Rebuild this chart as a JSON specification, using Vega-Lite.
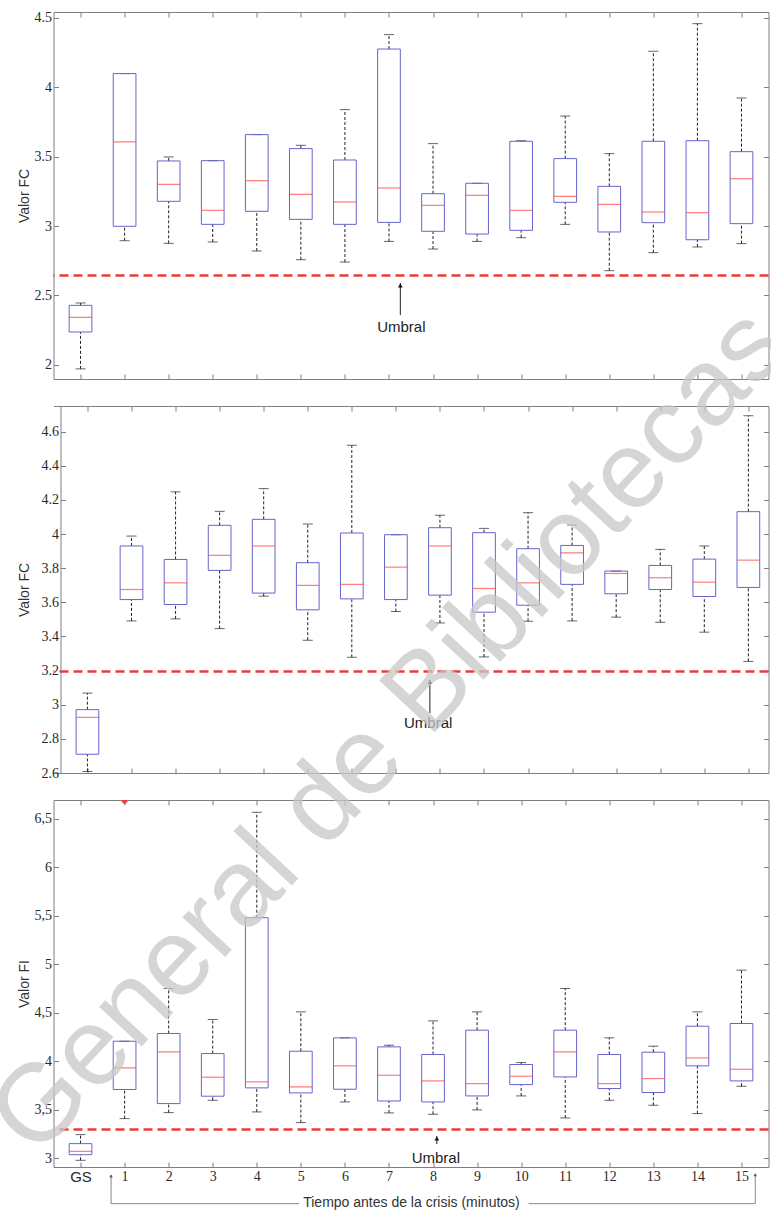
{
  "$schema": "https://vega.github.io/schema/vega-lite/v6.json",
  "background": "white",
  "padding": {"left": -28.5, "top": 10, "right": 0, "bottom": 0},
  "bounds": "flush",
  "spacing": 27,
  "config": {
    "view": {"stroke": "#7f7f7f", "strokeWidth": 1},
    "axis": {"grid": false, "domain": false, "tickColor": "#7f7f7f", "tickSize": -5,
      "labelFont": "Liberation Serif", "labelFontSize": 14, "labelColor": "#2a2a2a",
      "titleFont": "Liberation Sans", "titleFontSize": 14, "titleFontWeight": "normal", "titleColor": "#333"}
  },
  "datasets": {
    "fc1": [
      {"t": 0, "lo": 1.97, "q1": 2.236, "med": 2.341, "q3": 2.428, "hi": 2.445},
      {"t": 1, "lo": 2.894, "q1": 2.998, "med": 3.606, "q3": 4.099, "hi": 4.099},
      {"t": 2, "lo": 2.875, "q1": 3.178, "med": 3.30, "q3": 3.469, "hi": 3.498},
      {"t": 3, "lo": 2.885, "q1": 3.012, "med": 3.113, "q3": 3.471, "hi": 3.471},
      {"t": 4, "lo": 2.82, "q1": 3.106, "med": 3.327, "q3": 3.659, "hi": 3.659},
      {"t": 5, "lo": 2.757, "q1": 3.048, "med": 3.228, "q3": 3.558, "hi": 3.582},
      {"t": 6, "lo": 2.74, "q1": 3.012, "med": 3.173, "q3": 3.476, "hi": 3.839},
      {"t": 7, "lo": 2.889, "q1": 3.026, "med": 3.274, "q3": 4.276, "hi": 4.38},
      {"t": 8, "lo": 2.834, "q1": 2.962, "med": 3.149, "q3": 3.233, "hi": 3.594},
      {"t": 9, "lo": 2.889, "q1": 2.942, "med": 3.221, "q3": 3.308, "hi": 3.308},
      {"t": 10, "lo": 2.916, "q1": 2.969, "med": 3.113, "q3": 3.611, "hi": 3.615},
      {"t": 11, "lo": 3.012, "q1": 3.171, "med": 3.214, "q3": 3.486, "hi": 3.793},
      {"t": 12, "lo": 2.678, "q1": 2.957, "med": 3.156, "q3": 3.286, "hi": 3.522},
      {"t": 13, "lo": 2.808, "q1": 3.024, "med": 3.101, "q3": 3.611, "hi": 4.26},
      {"t": 14, "lo": 2.849, "q1": 2.901, "med": 3.096, "q3": 3.615, "hi": 4.459},
      {"t": 15, "lo": 2.873, "q1": 3.017, "med": 3.341, "q3": 3.536, "hi": 3.923}
    ],
    "fc2": [
      {"t": 0, "lo": 2.609, "q1": 2.71, "med": 2.926, "q3": 2.971, "hi": 3.068},
      {"t": 1, "lo": 3.491, "q1": 3.616, "med": 3.675, "q3": 3.93, "hi": 3.988},
      {"t": 2, "lo": 3.503, "q1": 3.587, "med": 3.714, "q3": 3.851, "hi": 4.247},
      {"t": 3, "lo": 3.446, "q1": 3.787, "med": 3.875, "q3": 4.051, "hi": 4.133},
      {"t": 4, "lo": 3.636, "q1": 3.654, "med": 3.93, "q3": 4.086, "hi": 4.266},
      {"t": 5, "lo": 3.378, "q1": 3.556, "med": 3.699, "q3": 3.832, "hi": 4.059},
      {"t": 6, "lo": 3.278, "q1": 3.62, "med": 3.705, "q3": 4.006, "hi": 4.52},
      {"t": 7, "lo": 3.546, "q1": 3.616, "med": 3.806, "q3": 3.996, "hi": 3.996},
      {"t": 8, "lo": 3.479, "q1": 3.642, "med": 3.93, "q3": 4.037, "hi": 4.11},
      {"t": 9, "lo": 3.28, "q1": 3.542, "med": 3.681, "q3": 4.008, "hi": 4.033},
      {"t": 10, "lo": 3.489, "q1": 3.583, "med": 3.714, "q3": 3.914, "hi": 4.125},
      {"t": 11, "lo": 3.491, "q1": 3.705, "med": 3.89, "q3": 3.933, "hi": 4.053},
      {"t": 12, "lo": 3.513, "q1": 3.65, "med": 3.769, "q3": 3.783, "hi": 3.783},
      {"t": 13, "lo": 3.483, "q1": 3.675, "med": 3.744, "q3": 3.816, "hi": 3.91},
      {"t": 14, "lo": 3.425, "q1": 3.634, "med": 3.718, "q3": 3.853, "hi": 3.93},
      {"t": 15, "lo": 3.254, "q1": 3.687, "med": 3.847, "q3": 4.131, "hi": 4.693}
    ],
    "fi": [
      {"t": 0, "lo": 2.978, "q1": 3.036, "med": 3.071, "q3": 3.15, "hi": 3.243},
      {"t": 1, "lo": 3.408, "q1": 3.708, "med": 3.931, "q3": 4.206, "hi": 4.206},
      {"t": 2, "lo": 3.47, "q1": 3.563, "med": 4.096, "q3": 4.286, "hi": 4.75},
      {"t": 3, "lo": 3.597, "q1": 3.639, "med": 3.835, "q3": 4.079, "hi": 4.43},
      {"t": 4, "lo": 3.477, "q1": 3.725, "med": 3.787, "q3": 5.48, "hi": 6.567},
      {"t": 5, "lo": 3.367, "q1": 3.673, "med": 3.735, "q3": 4.103, "hi": 4.509},
      {"t": 6, "lo": 3.58, "q1": 3.711, "med": 3.952, "q3": 4.241, "hi": 4.241},
      {"t": 7, "lo": 3.467, "q1": 3.59, "med": 3.855, "q3": 4.148, "hi": 4.165},
      {"t": 8, "lo": 3.453, "q1": 3.58, "med": 3.797, "q3": 4.069, "hi": 4.416},
      {"t": 9, "lo": 3.498, "q1": 3.642, "med": 3.769, "q3": 4.32, "hi": 4.509},
      {"t": 10, "lo": 3.642, "q1": 3.759, "med": 3.845, "q3": 3.966, "hi": 3.986},
      {"t": 11, "lo": 3.415, "q1": 3.838, "med": 4.096, "q3": 4.32, "hi": 4.75},
      {"t": 12, "lo": 3.597, "q1": 3.718, "med": 3.769, "q3": 4.069, "hi": 4.241},
      {"t": 13, "lo": 3.546, "q1": 3.677, "med": 3.821, "q3": 4.093, "hi": 4.155},
      {"t": 14, "lo": 3.46, "q1": 3.952, "med": 4.034, "q3": 4.361, "hi": 4.509},
      {"t": 15, "lo": 3.742, "q1": 3.797, "med": 3.917, "q3": 4.389, "hi": 4.939}
    ],
    "fiOut": [{"t": 1, "v": 6.68}]
  },
  "vconcat": [
    {
      "width": 715, "height": 367,
      "data": {"name": "fc1"},
      "layer": [
        {"mark": {"type": "rule", "strokeDash": [3, 2], "color": "#222", "strokeWidth": 1},
         "encoding": {
           "x": {"field": "t", "type": "quantitative", "scale": {"domain": [-0.5, 15.5], "nice": false, "zero": false},
                 "axis": {"orient": "bottom", "values": [0,1,2,3,4,5,6,7,8,9,10,11,12,13,14,15], "labels": false, "title": null}},
           "y": {"field": "q3", "type": "quantitative", "scale": {"domain": [1.897, 4.543], "nice": false, "zero": false},
                 "axis": {"orient": "left", "values": [2, 2.5, 3, 3.5, 4, 4.5], "format": "~g", "title": "Valor FC", "labelPadding": 7, "titlePadding": 3}},
           "y2": {"field": "hi"}}},
        {"mark": {"type": "rule", "strokeDash": [3, 2], "color": "#222", "strokeWidth": 1},
         "encoding": {
           "x": {"field": "t", "type": "quantitative", "axis": {"orient": "top", "values": [0,1,2,3,4,5,6,7,8,9,10,11,12,13,14,15], "labels": false, "title": null}},
           "y": {"field": "lo", "type": "quantitative", "axis": {"orient": "right", "values": [2, 2.5, 3, 3.5, 4, 4.5], "labels": false, "title": null}},
           "y2": {"field": "q1"}}},
        {"mark": {"type": "tick", "orient": "horizontal", "size": 10, "thickness": 1, "color": "#222"},
         "encoding": {"x": {"field": "t", "type": "quantitative", "axis": null}, "y": {"field": "hi", "type": "quantitative", "axis": null}}},
        {"mark": {"type": "tick", "orient": "horizontal", "size": 10, "thickness": 1, "color": "#222"},
         "encoding": {"x": {"field": "t", "type": "quantitative", "axis": null}, "y": {"field": "lo", "type": "quantitative", "axis": null}}},
        {"mark": {"type": "bar", "orient": "vertical", "width": 22.7, "filled": false, "color": "#6565cc", "strokeWidth": 1},
         "encoding": {"x": {"field": "t", "type": "quantitative", "axis": null}, "y": {"field": "q1", "type": "quantitative", "axis": null}, "y2": {"field": "q3"}}},
        {"mark": {"type": "tick", "orient": "horizontal", "size": 22.7, "thickness": 1.2, "color": "#ff4545"},
         "encoding": {"x": {"field": "t", "type": "quantitative", "axis": null}, "y": {"field": "med", "type": "quantitative", "axis": null}}},
        {"data": {"values": [{}]}, "mark": {"type": "rule", "color": "#e83c3c", "strokeWidth": 2.5, "strokeDash": [9, 5]},
         "encoding": {"y": {"datum": 2.644, "axis": null}}},
        {"data": {"values": [{}]}, "mark": {"type": "rule", "color": "#222", "strokeWidth": 1},
         "encoding": {"x": {"datum": 7.258, "axis": null}, "y": {"datum": 2.589, "axis": null}, "y2": {"datum": 2.358}}},
        {"data": {"values": [{}]}, "mark": {"type": "point", "shape": "triangle-up", "filled": true, "size": 22, "color": "#111", "opacity": 1},
         "encoding": {"x": {"datum": 7.258, "axis": null}, "y": {"datum": 2.571, "axis": null}}},
        {"data": {"values": [{}]}, "mark": {"type": "text", "text": "Umbral", "font": "Liberation Sans", "fontSize": 15, "color": "#222"},
         "encoding": {"x": {"datum": 7.28, "axis": null}, "y": {"datum": 2.272, "axis": null}}}
      ]
    },
    {
      "width": 715, "height": 367,
      "view": {"stroke": null},
      "data": {"name": "fc2"},
      "layer": [
        {"mark": {"type": "rule", "strokeDash": [3, 2], "color": "#222", "strokeWidth": 1},
         "encoding": {
           "x": {"field": "t", "type": "quantitative", "scale": {"domain": [-0.6566, 15.3434], "nice": false, "zero": false},
                 "axis": {"orient": "bottom", "values": [0,1,2,3,4,5,6,7,8,9,10,11,12,13,14,15], "labels": false, "title": null, "domain": true, "domainColor": "#7f7f7f"}},
           "y": {"field": "q3", "type": "quantitative", "scale": {"domain": [2.6, 4.75], "nice": false, "zero": false},
                 "axis": {"orient": "left", "offset": -7, "domain": true, "domainColor": "#7f7f7f", "values": [2.6, 2.8, 3, 3.2, 3.4, 3.6, 3.8, 4, 4.2, 4.4, 4.6], "format": "~g", "title": "Valor FC", "labelPadding": 7, "titlePadding": 10}},
           "y2": {"field": "hi"}}},
        {"mark": {"type": "rule", "strokeDash": [3, 2], "color": "#222", "strokeWidth": 1},
         "encoding": {
           "x": {"field": "t", "type": "quantitative", "axis": {"orient": "top", "values": [0,1,2,3,4,5,6,7,8,9,10,11,12,13,14,15], "labels": false, "title": null, "domain": true, "domainColor": "#7f7f7f"}},
           "y": {"field": "lo", "type": "quantitative", "axis": {"orient": "right", "domain": true, "domainColor": "#7f7f7f", "values": [2.6, 2.8, 3, 3.2, 3.4, 3.6, 3.8, 4, 4.2, 4.4, 4.6], "labels": false, "title": null}},
           "y2": {"field": "q1"}}},
        {"mark": {"type": "tick", "orient": "horizontal", "size": 10, "thickness": 1, "color": "#222"},
         "encoding": {"x": {"field": "t", "type": "quantitative", "axis": null}, "y": {"field": "hi", "type": "quantitative", "axis": null}}},
        {"mark": {"type": "tick", "orient": "horizontal", "size": 10, "thickness": 1, "color": "#222"},
         "encoding": {"x": {"field": "t", "type": "quantitative", "axis": null}, "y": {"field": "lo", "type": "quantitative", "axis": null}}},
        {"mark": {"type": "bar", "orient": "vertical", "width": 22.7, "filled": false, "color": "#6565cc", "strokeWidth": 1},
         "encoding": {"x": {"field": "t", "type": "quantitative", "axis": null}, "y": {"field": "q1", "type": "quantitative", "axis": null}, "y2": {"field": "q3"}}},
        {"mark": {"type": "tick", "orient": "horizontal", "size": 22.7, "thickness": 1.2, "color": "#ff4545"},
         "encoding": {"x": {"field": "t", "type": "quantitative", "axis": null}, "y": {"field": "med", "type": "quantitative", "axis": null}}},
        {"data": {"values": [{}]}, "mark": {"type": "rule", "color": "#e83c3c", "strokeWidth": 2.5, "strokeDash": [9, 5]},
         "encoding": {"y": {"datum": 3.194, "axis": null}}},
        {"data": {"values": [{}]}, "mark": {"type": "rule", "color": "#222", "strokeWidth": 1},
         "encoding": {"x": {"datum": 7.772, "axis": null}, "y": {"datum": 3.146, "axis": null}, "y2": {"datum": 2.951}}},
        {"data": {"values": [{}]}, "mark": {"type": "point", "shape": "triangle-up", "filled": true, "size": 22, "color": "#111", "opacity": 1},
         "encoding": {"x": {"datum": 7.772, "axis": null}, "y": {"datum": 3.133, "axis": null}}},
        {"data": {"values": [{}]}, "mark": {"type": "text", "text": "Umbral", "font": "Liberation Sans", "fontSize": 15, "color": "#222"},
         "encoding": {"x": {"datum": 7.734, "axis": null}, "y": {"datum": 2.895, "axis": null}}}
      ]
    },
    {
      "width": 715, "height": 367,
      "data": {"name": "fi"},
      "layer": [
        {"mark": {"type": "rule", "strokeDash": [3, 2], "color": "#222", "strokeWidth": 1},
         "encoding": {
           "x": {"field": "t", "type": "quantitative", "scale": {"domain": [-0.5, 15.5], "nice": false, "zero": false},
                 "axis": {"orient": "bottom", "values": [0,1,2,3,4,5,6,7,8,9,10,11,12,13,14,15],
                   "labelExpr": "datum.value == 0 ? 'GS' : datum.label",
                   "labelFont": {"condition": {"test": "datum.value == 0", "value": "Liberation Sans"}, "value": "Liberation Serif"},
                   "labelFontSize": {"condition": {"test": "datum.value == 0", "value": 15}, "value": 14},
                   "labelPadding": 7,
                   "title": "Tiempo antes de la crisis (minutos)", "titleFontSize": 14, "titlePadding": 11}},
           "y": {"field": "q3", "type": "quantitative", "scale": {"domain": [2.909, 6.694], "nice": false, "zero": false},
                 "axis": {"orient": "left", "values": [3, 3.5, 4, 4.5, 5, 5.5, 6, 6.5], "format": "~g", "labelExpr": "replace(datum.label, '.', ',')", "title": "Valor FI", "labelPadding": 7, "titlePadding": 3}},
           "y2": {"field": "hi"}}},
        {"mark": {"type": "rule", "strokeDash": [3, 2], "color": "#222", "strokeWidth": 1},
         "encoding": {
           "x": {"field": "t", "type": "quantitative", "axis": {"orient": "top", "values": [0,1,2,3,4,5,6,7,8,9,10,11,12,13,14,15], "labels": false, "title": null}},
           "y": {"field": "lo", "type": "quantitative", "axis": {"orient": "right", "values": [3, 3.5, 4, 4.5, 5, 5.5, 6, 6.5], "labels": false, "title": null}},
           "y2": {"field": "q1"}}},
        {"mark": {"type": "tick", "orient": "horizontal", "size": 10, "thickness": 1, "color": "#222"},
         "encoding": {"x": {"field": "t", "type": "quantitative", "axis": null}, "y": {"field": "hi", "type": "quantitative", "axis": null}}},
        {"mark": {"type": "tick", "orient": "horizontal", "size": 10, "thickness": 1, "color": "#222"},
         "encoding": {"x": {"field": "t", "type": "quantitative", "axis": null}, "y": {"field": "lo", "type": "quantitative", "axis": null}}},
        {"mark": {"type": "bar", "orient": "vertical", "width": 22.7, "filled": false, "color": "#6565cc", "strokeWidth": 1},
         "encoding": {"x": {"field": "t", "type": "quantitative", "axis": null}, "y": {"field": "q1", "type": "quantitative", "axis": null}, "y2": {"field": "q3"}}},
        {"mark": {"type": "tick", "orient": "horizontal", "size": 22.7, "thickness": 1.2, "color": "#ff4545"},
         "encoding": {"x": {"field": "t", "type": "quantitative", "axis": null}, "y": {"field": "med", "type": "quantitative", "axis": null}}},
        {"data": {"name": "fiOut"}, "mark": {"type": "point", "shape": "cross", "filled": true, "size": 30, "color": "#ff3030", "opacity": 1, "clip": true},
         "encoding": {"x": {"field": "t", "type": "quantitative", "axis": null}, "y": {"field": "v", "type": "quantitative", "axis": null}}},
        {"data": {"values": [{}]}, "mark": {"type": "rule", "color": "#e83c3c", "strokeWidth": 2.5, "strokeDash": [9, 5]},
         "encoding": {"y": {"datum": 3.295, "axis": null}}},
        {"data": {"values": [{}]}, "mark": {"type": "rule", "color": "#222", "strokeWidth": 1},
         "encoding": {"x": {"datum": 8.086, "axis": null}, "y": {"datum": 3.229, "axis": null}, "y2": {"datum": 3.146}}},
        {"data": {"values": [{}]}, "mark": {"type": "point", "shape": "triangle-up", "filled": true, "size": 22, "color": "#111", "opacity": 1},
         "encoding": {"x": {"datum": 8.086, "axis": null}, "y": {"datum": 3.203, "axis": null}}},
        {"data": {"values": [{}]}, "mark": {"type": "text", "text": "Umbral", "font": "Liberation Sans", "fontSize": 15, "color": "#222"},
         "encoding": {"x": {"datum": 8.063, "axis": null}, "y": {"datum": 3.005, "axis": null}}},
        {"data": {"values": [{}]}, "mark": {"type": "rule", "color": "#888", "strokeWidth": 1},
         "encoding": {"x": {"datum": 0.693, "axis": null}, "y": {"datum": 2.827, "axis": null}, "y2": {"datum": 2.531}}},
        {"data": {"values": [{}]}, "mark": {"type": "rule", "color": "#888", "strokeWidth": 1},
         "encoding": {"x": {"datum": 15.313, "axis": null}, "y": {"datum": 2.84, "axis": null}, "y2": {"datum": 2.531}}},
        {"data": {"values": [{}]}, "mark": {"type": "rule", "color": "#888", "strokeWidth": 1},
         "encoding": {"x": {"datum": 0.693, "axis": null}, "x2": {"datum": 4.96}, "y": {"datum": 2.531, "axis": null}}},
        {"data": {"values": [{}]}, "mark": {"type": "rule", "color": "#888", "strokeWidth": 1},
         "encoding": {"x": {"datum": 10.17, "axis": null}, "x2": {"datum": 15.313}, "y": {"datum": 2.531, "axis": null}}},
        {"data": {"values": [{}]}, "mark": {"type": "point", "shape": "triangle-up", "filled": true, "size": 12, "color": "#555", "opacity": 1},
         "encoding": {"x": {"datum": 0.693, "axis": null}, "y": {"datum": 2.815, "axis": null}}},
        {"data": {"values": [{}]}, "mark": {"type": "point", "shape": "triangle-up", "filled": true, "size": 12, "color": "#555", "opacity": 1},
         "encoding": {"x": {"datum": 15.313, "axis": null}, "y": {"datum": 2.828, "axis": null}}},
        {"data": {"values": [{}]}, "mark": {"type": "text", "text": "General de Bibliotecas", "font": "Liberation Sans", "fontSize": 110, "angle": -47, "align": "center", "baseline": "middle", "color": "#c8c8c8", "opacity": 0.75},
         "encoding": {"x": {"datum": 7.018, "axis": null}, "y": {"datum": 7.395, "axis": null}}}
      ]
    }
  ]
}
